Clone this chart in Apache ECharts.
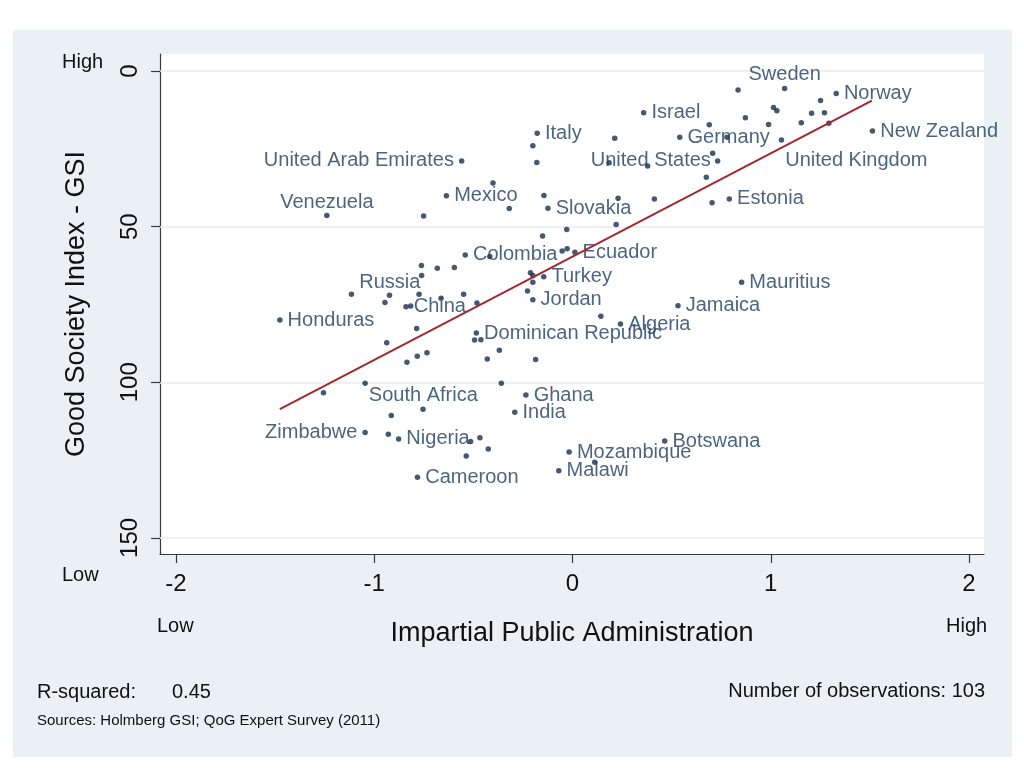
<!DOCTYPE html>
<html><head><meta charset="utf-8">
<script src="https://cdn.jsdelivr.net/npm/echarts@6/dist/echarts.min.js"></script>
<style>
html,body{margin:0;padding:0;background:#fff;}
#panel{position:absolute;left:13px;top:30px;width:999px;height:727px;background:#eaf0f3;}
#chart{position:absolute;left:0;top:0;width:1024px;height:768px;}
</style></head><body><div id="panel"></div><div id="chart"></div>
<script>
// ---- data ----
const countries = ['Sweden','Norway','Israel','Germany','New Zealand','United Kingdom','United States','Italy',
  'United Arab Emirates','Venezuela','Mexico','Slovakia','Estonia','Colombia','Ecuador','Turkey','Mauritius',
  'Russia','China','Honduras','Jordan','Jamaica','Algeria','Dominican Republic','South Africa','Ghana','India',
  'Zimbabwe','Nigeria','Cameroon','Mozambique','Malawi','Botswana'];
const countryImpartiality = [1.070,1.330,0.359,0.541,1.513,1.054,0.732,-0.178,
  -0.559,-1.239,-0.636,-0.124,0.791,-0.541,0.012,-0.145,0.853,
  -1.115,-0.840,-1.476,-0.200,0.532,0.242,-0.485,-1.046,-0.235,-0.291,
  -1.046,-0.877,-0.782,-0.017,-0.069,0.465];
const countryGSI = [5.6,7.2,13.4,21.3,19.3,22.2,28.9,20.0,
  28.9,46.4,40.1,44.1,41.1,59.1,58.2,66.1,67.9,
  71.7,75.7,80.0,73.5,75.4,81.3,84.2,100.3,104.1,109.6,
  116.1,118.2,130.5,122.4,128.4,118.9];
const otherImpartiality = [0.835,1.251,1.014,1.031,0.690,0.872,0.989,1.154,1.206,1.271,1.293,0.213,0.779,
  0.185,0.379,0.707,0.675,0.230,0.413,0.704,0.220,-0.029,-0.052,-0.027,-0.200,-0.180,-0.401,-0.319,-0.144,
  -0.751,-0.151,-0.417,-0.762,-0.682,-0.596,-0.761,-0.212,-0.200,-0.200,-0.923,-0.774,-0.549,-0.227,-0.946,
  -0.816,-0.663,-0.482,-0.786,-0.937,-0.494,-0.462,-0.835,-0.783,-0.734,-0.430,-0.369,-0.186,-1.256,-0.359,
  -0.914,-0.754,-0.929,-0.514,-0.467,-0.425,-0.536,0.143,0.112];
const otherGSI = [6.1,9.5,11.7,12.8,17.3,15.0,17.2,16.6,13.6,13.4,16.8,21.6,21.3,
  29.5,30.5,26.4,34.1,40.9,41.1,42.3,49.3,50.9,57.8,57.1,24.0,29.4,36.0,44.2,40.0,
  46.6,53.0,59.6,62.5,63.4,63.1,65.7,64.8,65.7,67.9,72.0,71.7,71.7,70.7,74.4,
  75.5,73.0,74.5,82.7,87.3,86.4,86.3,93.6,91.6,90.5,92.5,89.7,92.7,103.4,100.3,
  110.7,108.7,116.7,119.0,117.8,121.4,123.7,78.8,125.7];
const fitImpartiality = [-1.476, 1.510];
const fitGSI = [108.6, 9.5];
const xTickValues = [-2, -1, 0, 1, 2];
const yTickValues = [0, 50, 100, 150];
const rSquared = '0.45';
const observations = 103;

// ---- styles ----
const FONT = '"Liberation Sans", Arial, sans-serif';
const DOT = '#172f4f';
const LABEL = '#1f3d63';
const labelPlacement = {
  'Sweden': {position: 'top', distance: 1},
  'Venezuela': {position: 'top', distance: 0},
  'United Arab Emirates': {position: 'left', distance: 5},
  'United States': {position: 'left', distance: 4},
  'Zimbabwe': {position: 'left', distance: 5},
  'Russia': {position: [10.5, -8.5], align: 'left', verticalAlign: 'middle'},
  'United Kingdom': {position: [6.5, 23], align: 'left', verticalAlign: 'middle'},
  'South Africa': {position: [6.5, 15], align: 'left', verticalAlign: 'middle'}
};

const labeledData = countries.map((c, i) => ({
  name: c,
  value: [countryImpartiality[i], countryGSI[i]],
  label: Object.assign({show: true}, labelPlacement[c] || {position: 'right', distance: 5})
}));
const otherData = otherImpartiality.map((x, i) => [x, otherGSI[i]]);
const fitData = fitImpartiality.map((x, i) => [x, fitGSI[i]]);

const axisLineStyle = {color: '#3a3a3a', width: 1.2};
const chart = echarts.init(document.getElementById('chart'), null, {renderer: 'canvas'});
chart.setOption({
  animation: false,
  backgroundColor: 'transparent',
  textStyle: {fontFamily: FONT},
  grid: {left: 160, top: 54, width: 824, height: 500, show: true, backgroundColor: '#ffffff', borderWidth: 0},
  xAxis: {
    type: 'value', min: -2.0806, max: 2.0756,
    axisLine: {show: true, onZero: false, lineStyle: axisLineStyle},
    axisTick: {show: true, length: 9, lineStyle: axisLineStyle, customValues: xTickValues},
    axisLabel: {color: '#111', fontSize: 24, fontFamily: FONT, margin: 18, customValues: xTickValues,
      formatter: v => String(v)},
    splitLine: {show: false},
    name: 'Impartial Public Administration', nameLocation: 'middle', nameGap: 66,
    nameTextStyle: {color: '#111', fontSize: 27, fontFamily: FONT}
  },
  yAxis: {
    type: 'value', inverse: true, min: -5.46, max: 155.16,
    axisLine: {show: true, onZero: false, lineStyle: axisLineStyle},
    axisTick: {show: true, length: 9, lineStyle: axisLineStyle, customValues: yTickValues},
    axisLabel: {color: '#111', fontSize: 24, fontFamily: FONT, margin: 18, rotate: 90, customValues: yTickValues,
      formatter: v => String(v)},
    splitLine: {show: false},
    name: 'Good Society Index - GSI', nameLocation: 'middle', nameGap: 70,
    nameTextStyle: {color: '#111', fontSize: 27, fontFamily: FONT}
  },
  series: [
    {
      type: 'scatter', data: [], silent: true, z: 1,
      markLine: {
        silent: true, symbol: 'none', z: 1, label: {show: false}, emphasis: {disabled: true},
        lineStyle: {color: '#e8edf0', width: 1.5, type: 'solid'},
        data: yTickValues.map(v => ({yAxis: v}))
      }
    },
    {
      type: 'scatter', symbol: 'circle', symbolSize: 5.5, silent: true,
      itemStyle: {color: DOT},
      data: otherData,
      z: 3
    },
    {
      type: 'scatter', symbol: 'circle', symbolSize: 5.5, silent: true,
      itemStyle: {color: DOT},
      label: {show: true, formatter: '{b}', color: LABEL, fontSize: 20, fontFamily: FONT,
        textBorderWidth: 0, textBorderColor: 'transparent', textShadowBlur: 0},
      labelLayout: {hideOverlap: false},
      data: labeledData,
      z: 4
    },
    {
      type: 'line', data: fitData, symbol: 'none', silent: true,
      lineStyle: {color: '#a3282e', width: 2}, z: 5
    }
  ],
  graphic: [
    {type: 'text', left: 62, top: 52, style: {text: 'High', font: '20px ' + FONT, fill: '#111'}},
    {type: 'text', left: 62, top: 565, style: {text: 'Low', font: '20px ' + FONT, fill: '#111'}},
    {type: 'text', left: 157, top: 616, style: {text: 'Low', font: '20px ' + FONT, fill: '#111'}},
    {type: 'text', left: 946, top: 616, style: {text: 'High', font: '20px ' + FONT, fill: '#111'}},
    {type: 'text', left: 37, top: 682, style: {text: 'R-squared:', font: '20px ' + FONT, fill: '#111'}},
    {type: 'text', left: 172, top: 682, style: {text: rSquared, font: '20px ' + FONT, fill: '#111'}},
    {type: 'text', right: 39, top: 681, style: {text: 'Number of observations: ' + observations, font: '20px ' + FONT, fill: '#111'}},
    {type: 'text', left: 37, top: 713, style: {text: 'Sources: Holmberg GSI; QoG Expert Survey (2011)', font: '15px ' + FONT, fill: '#111'}}
  ]
});
</script></body></html>
